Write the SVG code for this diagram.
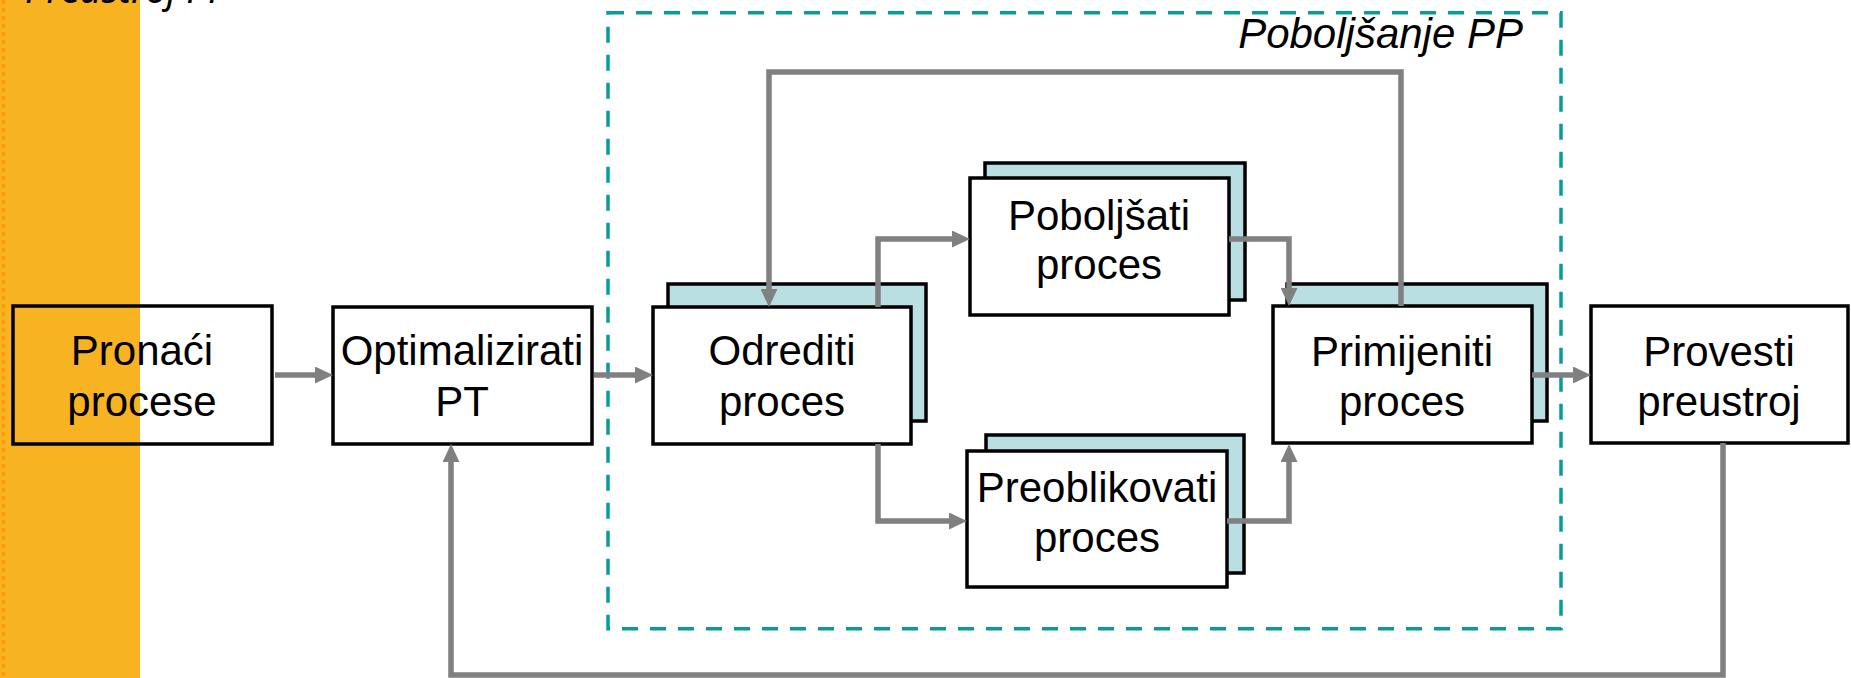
<svg xmlns="http://www.w3.org/2000/svg" width="1851" height="678" viewBox="0 0 1851 678">
<style>
.box{fill:#fff;stroke:#000;stroke-width:3.5}
.shadow{fill:#B9DFE2;stroke:#000;stroke-width:3.5}
.lbl{font-family:"Liberation Sans",Arial,sans-serif;font-size:42px;fill:#000;text-anchor:middle}
.conn{fill:none;stroke:#808080;stroke-width:5.5}
</style>
<defs>
<marker id="arr" markerUnits="userSpaceOnUse" markerWidth="18" markerHeight="17" refX="0" refY="8.5" orient="auto">
<path d="M0,0 L18,8.5 L0,17 Z" fill="#808080"/>
</marker>
</defs>
<rect x="0" y="0" width="1851" height="678" fill="#fff"/>
<rect x="0" y="0" width="140" height="678" fill="#F8B323"/>
<line x1="3.5" y1="0" x2="3.5" y2="678" stroke="#FF9900" stroke-width="3.5" stroke-dasharray="4 4"/>
<text x="25" y="3" font-family="'Noto Sans',sans-serif" font-style="italic" font-size="38" fill="#000">Preustroj PP</text>

<g id="group-poboljsanje">
<rect x="608" y="12.7" width="953" height="616" fill="none" stroke="#0A9A98" stroke-width="3.5" stroke-dasharray="16 12"/>
<text x="1523" y="48" font-family="'Liberation Sans',Arial,sans-serif" font-style="italic" font-size="42" text-anchor="end" fill="#000">Poboljšanje PP</text>
</g>

<g id="n-pronaci">
<rect x="13" y="306" width="259" height="138" fill="none" stroke="#000" stroke-width="3.5"/>
<text class="lbl" x="142" y="365">Pronaći</text>
<text class="lbl" x="142" y="416">procese</text>
</g>
<g id="n-optimalizirati">
<rect class="box" x="333" y="307" width="259" height="137"/>
<text class="lbl" x="462" y="365">Optimalizirati</text>
<text class="lbl" x="462" y="416">PT</text>
</g>
<g id="n-odrediti">
<rect class="shadow" x="668" y="284" width="258" height="137"/>
<rect class="box" x="653" y="307" width="258" height="137"/>
<text class="lbl" x="782" y="365">Odrediti</text>
<text class="lbl" x="782" y="416">proces</text>
</g>
<g id="n-poboljsati">
<rect class="shadow" x="985" y="163" width="260" height="137"/>
<rect class="box" x="970" y="178" width="259" height="137"/>
<text class="lbl" x="1099" y="230">Poboljšati</text>
<text class="lbl" x="1099" y="279">proces</text>
</g>
<g id="n-preoblikovati">
<rect class="shadow" x="986" y="435" width="258" height="138"/>
<rect class="box" x="967" y="451" width="260" height="136"/>
<text class="lbl" x="1097" y="502">Preoblikovati</text>
<text class="lbl" x="1097" y="552">proces</text>
</g>
<g id="n-primijeniti">
<rect class="shadow" x="1287" y="284" width="260" height="137"/>
<rect class="box" x="1273" y="306" width="259" height="137"/>
<text class="lbl" x="1402" y="366">Primijeniti</text>
<text class="lbl" x="1402" y="416">proces</text>
</g>
<g id="n-provesti">
<rect class="box" x="1591" y="306" width="257" height="137"/>
<text class="lbl" x="1719" y="366">Provesti</text>
<text class="lbl" x="1719" y="416">preustroj</text>
</g>

<g id="connectors">
<path class="conn" d="M275,375 H315" marker-end="url(#arr)"/>
<path class="conn" d="M594,375 H635" marker-end="url(#arr)"/>
<path class="conn" d="M878,307 V239 H952" marker-end="url(#arr)"/>
<path class="conn" d="M878,444 V521 H949" marker-end="url(#arr)"/>
<path class="conn" d="M1229,239 H1289 V288" marker-end="url(#arr)"/>
<path class="conn" d="M1227,521 H1289 V462" marker-end="url(#arr)"/>
<path class="conn" d="M1532,375 H1573" marker-end="url(#arr)"/>
<path class="conn" d="M1401,306 V72 H769 V289" marker-end="url(#arr)"/>
<path class="conn" d="M1723,443 V675 H451 V462" marker-end="url(#arr)"/>
</g>
</svg>
